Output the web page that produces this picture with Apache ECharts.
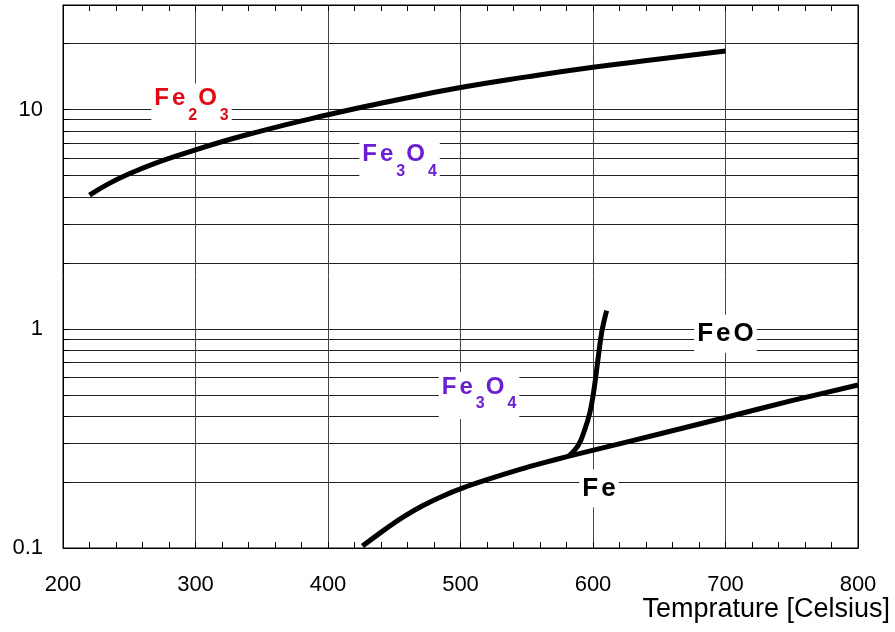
<!DOCTYPE html>
<html>
<head>
<meta charset="utf-8">
<script src="https://cdn.jsdelivr.net/npm/echarts@6/dist/echarts.min.js"></script>
<style>
html, body { margin: 0; padding: 0; background: #fff; }
#chart { width: 895px; height: 632px; }
</style>
</head>
<body>
<div id="chart"></div>
<script>
// Fe2O3 / Fe3O4 boundary
var upperX = [220, 250, 300, 350, 400, 450, 500, 550, 600, 650, 700];
var upperY = [4.07, 5.1, 6.55, 8.0, 9.47, 11.0, 12.6, 14.1, 15.6, 17.0, 18.5];
// Fe3O4 / Fe and FeO / Fe boundary
var lowerX = [426, 441.5, 456.6, 471.7, 486.8, 501.9, 520, 544.9, 563.8, 580.4, 600.4, 650, 700, 750, 800];
var lowerY = [0.102, 0.1197, 0.1382, 0.1562, 0.1728, 0.188, 0.2049, 0.2283, 0.2457, 0.261, 0.2797, 0.331, 0.394, 0.47, 0.554];
// Fe3O4 / FeO boundary
var steepX = [581.5, 589, 594, 597.7, 600.8, 603.8, 606.6, 610.3];
var steepY = [0.262, 0.295, 0.35, 0.416, 0.531, 0.729, 0.966, 1.21];

var yTicks = [0.1, 0.2, 0.3, 0.4, 0.5, 0.6, 0.7, 0.8, 0.9, 1, 2, 3, 4, 5, 6, 7, 8, 9, 10, 20, 30];
var yLabels = [0.1, 1, 10];

// phase labels
var phaseNames = ['Fe2O3', 'Fe3O4', 'Fe3O4', 'FeO', 'Fe'];
var phaseX = [297, 454, 514, 700, 604.5];
var phaseY = [10.27, 5.69, 0.496, 0.949, 0.187];
var phaseColor = ['#e00a14', '#6a20d2', '#6a20d2', '#000', '#000'];

var FONT = "'Liberation Sans', Arial, sans-serif";

function pairs(xs, ys) {
  return xs.map(function (x, i) { return [x, ys[i]]; });
}

function formula(name) {
  // one token per char so the letters can be spaced, digits are subscripts
  return name.split('').map(function (c) {
    return /[0-9]/.test(c) ? '{s|' + c + '}' : '{m|' + c + '}';
  }).join('');
}

var dom = document.getElementById('chart');
var myChart = echarts.init(dom, null, { renderer: 'canvas' });

var labelSeries = phaseNames.map(function (n, i) {
  var c = phaseColor[i];
  var hasSub = /[0-9]/.test(n);
  return {
    type: 'scatter',
    symbolSize: 0,
    silent: true,
    z: 5,
    itemStyle: { opacity: 1 },
    data: [[phaseX[i], phaseY[i]]],
    label: {
      show: true,
      position: 'inside',
      opacity: 1,
      formatter: hasSub ? formula(n) : n.split('').map(function (ch) { return '{b|' + ch + '}'; }).join(''),
      backgroundColor: '#fff',
      padding: hasSub ? [3, 2, 7, 3] : [6, 0, 6, 3],
      rich: {
        m: { fontFamily: FONT, fontSize: 24, fontWeight: 'bold', color: c, lineHeight: 24, verticalAlign: 'top', padding: [0, 3, 0, 0] },
        s: { fontFamily: FONT, fontSize: 16, fontWeight: 'bold', color: c, verticalAlign: 'top', padding: [21, 1, 0, 0] },
        b: { fontFamily: FONT, fontSize: 26, fontWeight: 'bold', color: c, lineHeight: 26, padding: [0, 3, 0, 0] }
      }
    }
  };
});

var option = {
  animation: false,
  backgroundColor: '#fff',
  grid: {
    show: true,
    left: 63,
    right: 37,
    top: 5,
    bottom: 84,
    containLabel: false,
    outerBoundsMode: 'none',
    borderColor: '#000',
    borderWidth: 1,
    backgroundColor: 'transparent'
  },
  // axis title sits under the right end of the x axis
  graphic: [{
    type: 'text',
    right: 5,
    top: 596,
    silent: true,
    style: { text: 'Temprature [Celsius]', fontFamily: FONT, fontSize: 27, fill: '#000' }
  }],
  xAxis: [{
    type: 'value',
    min: 200,
    max: 800,
    interval: 100,
    axisLine: { show: true, lineStyle: { color: '#000' } },
    axisTick: { show: true, inside: true, length: 6, lineStyle: { color: '#000' } },
    minorTick: { show: true, splitNumber: 5, length: 6, lineStyle: { color: '#000' } },
    axisLabel: { fontFamily: FONT, fontSize: 22, color: '#000', margin: 26 },
    splitLine: { show: true, lineStyle: { color: '#444', width: 1 } }
  }, {
    type: 'value',
    position: 'top',
    min: 200,
    max: 800,
    interval: 100,
    axisLine: { show: true, lineStyle: { color: '#000' } },
    axisTick: { show: true, inside: true, length: 6, lineStyle: { color: '#000' } },
    minorTick: { show: true, splitNumber: 5, length: 6, lineStyle: { color: '#000' } },
    axisLabel: { show: false },
    splitLine: { show: false }
  }],
  yAxis: [{
    type: 'log',
    logBase: 10,
    min: 0.1,
    max: 30,
    axisLine: { show: true, lineStyle: { color: '#000' } },
    axisTick: { show: true, inside: true, length: 6, customValues: yTicks, lineStyle: { color: '#000' } },
    axisLabel: {
      customValues: yLabels,
      fontFamily: FONT, fontSize: 22, color: '#000', margin: 20,
      formatter: function (v) { return String(v); }
    },
    splitLine: { show: true, lineStyle: { color: '#222', width: 1 } }
  }, {
    type: 'log',
    logBase: 10,
    min: 0.1,
    max: 30,
    position: 'right',
    axisLine: { show: true, lineStyle: { color: '#000' } },
    axisTick: { show: true, inside: true, length: 6, customValues: yTicks, lineStyle: { color: '#000' } },
    axisLabel: { show: false },
    splitLine: { show: false }
  }],
  series: [{
    name: 'Fe2O3-Fe3O4',
    type: 'line',
    smooth: true,
    symbol: 'none',
    lineStyle: { color: '#000', width: 5 },
    data: pairs(upperX, upperY),
    z: 4
  }, {
    name: 'Fe-Fe3O4-FeO',
    type: 'line',
    smooth: 0.3,
    symbol: 'none',
    lineStyle: { color: '#000', width: 5 },
    data: pairs(lowerX, lowerY),
    z: 4
  }, {
    name: 'Fe3O4-FeO',
    type: 'line',
    smooth: 0.4,
    symbol: 'none',
    lineStyle: { color: '#000', width: 5 },
    data: pairs(steepX, steepY),
    z: 4
  }].concat(labelSeries)
};

myChart.setOption(option);
window.addEventListener('resize', myChart.resize);
</script>
</body>
</html>
